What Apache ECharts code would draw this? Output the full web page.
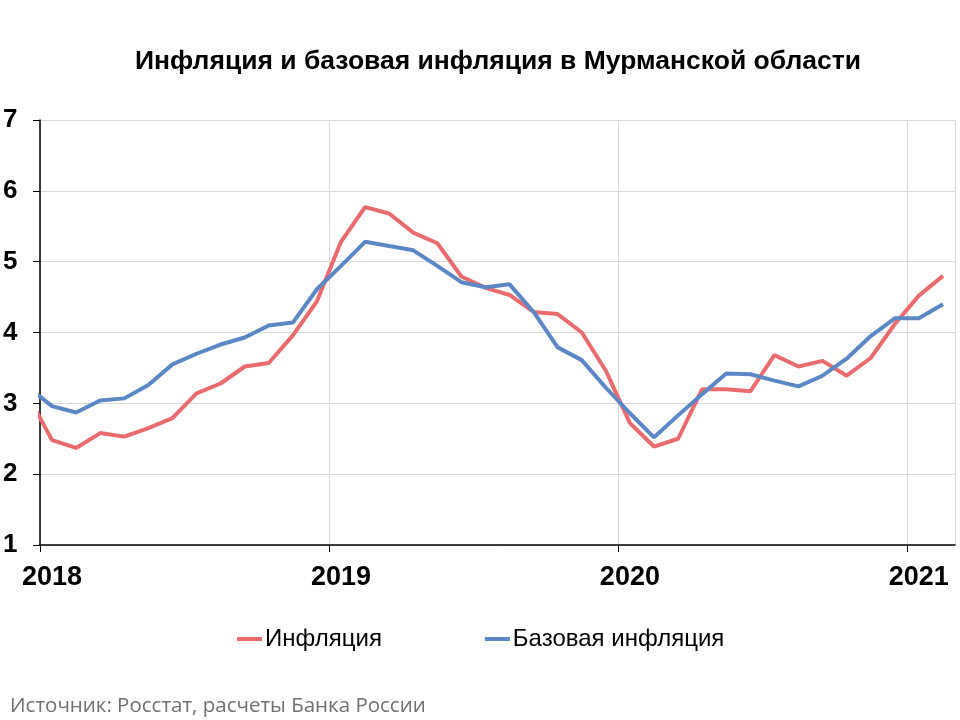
<!DOCTYPE html>
<html>
<head>
<meta charset="utf-8">
<script src="https://cdn.jsdelivr.net/npm/echarts@6/dist/echarts.min.js"></script>
<style>
  html, body { margin: 0; padding: 0; background: #fff; }
  #chart { width: 960px; height: 720px; }
</style>
</head>
<body>
<div id="chart"></div>
<script>
// месяцы (первый - декабрь 2017, обрезается краем оси)
var months = ['2017-12',
  '2018-01','2018-02','2018-03','2018-04','2018-05','2018-06','2018-07','2018-08','2018-09','2018-10','2018-11','2018-12',
  '2019-01','2019-02','2019-03','2019-04','2019-05','2019-06','2019-07','2019-08','2019-09','2019-10','2019-11','2019-12',
  '2020-01','2020-02','2020-03','2020-04','2020-05','2020-06','2020-07','2020-08','2020-09','2020-10','2020-11','2020-12',
  '2021-01','2021-02'];
// инфляция, % г/г
var inflation = [3.11,
  2.48, 2.37, 2.58, 2.53, 2.65, 2.79, 3.14, 3.28, 3.52, 3.57, 3.96, 4.44,
  5.28, 5.77, 5.68, 5.41, 5.26, 4.79, 4.63, 4.53, 4.29, 4.26, 4.00, 3.46,
  2.72, 2.39, 2.50, 3.20, 3.20, 3.17, 3.68, 3.52, 3.60, 3.39, 3.64, 4.12,
  4.52, 4.80];
// базовая инфляция, % г/г
var coreInflation = [3.23,
  2.96, 2.87, 3.04, 3.07, 3.26, 3.55, 3.70, 3.83, 3.93, 4.10, 4.14, 4.61,
  4.94, 5.28, 5.22, 5.16, 4.94, 4.71, 4.64, 4.68, 4.29, 3.79, 3.61, 3.22,
  2.86, 2.52, 2.83, 3.13, 3.42, 3.41, 3.32, 3.24, 3.39, 3.63, 3.95, 4.20,
  4.20, 4.40];
var startYear = 2018;
var yTicks = [1, 2, 3, 4, 5, 6, 7];

//позиция месяца на оси: середина месяца, считая от января 2018
function monthPos(m) {
  var p = m.split('-');
  return (Number(p[0]) - startYear) * 12 + Number(p[1]) - 1 + 0.5;
}
function toPairs(values) {
  var res = [];
  for (var i = 0; i < months.length; i++) {
    res.push([monthPos(months[i]), values[i]]);
  }
  return res;
}

var font = '"Liberation Sans", Arial, sans-serif';
var myChart = echarts.init(document.getElementById('chart'));
var option = {
  animation: false,
  backgroundColor: '#fff',
  title: [{
    text: 'Инфляция и базовая инфляция в Мурманской области',
    left: 130,
    top: 43,
    textStyle: { fontFamily: font, fontSize: 26.5, fontWeight: 'bold', color: '#000' }
  }, {
    text: 'Источник: Росстат, расчеты Банка России',
    left: 5,
    top: 691,
    textStyle: { fontFamily: '"Open Sans", sans-serif', fontSize: 20.5, fontWeight: 'normal', color: '#707070' }
  }],
  legend: {
    left: 232,
    top: 622,
    itemGap: 103,
    itemWidth: 25,
    itemHeight: 4,
    icon: 'rect',
    textStyle: { fontFamily: font, fontSize: 24, color: '#000', padding: [0, 0, 0, -2] },
    data: ['Инфляция', 'Базовая инфляция']
  },
  grid: { left: 40, right: 5, top: 120, bottom: 175 },
  xAxis: {
    type: 'value',
    min: 0,
    max: 38,
    interval: 12,
    axisLine: { lineStyle: { color: '#000', width: 1.5 } },
    axisTick: { length: 7, lineStyle: { color: '#000' } },
    splitLine: { show: true, lineStyle: { color: '#d9d9d9', width: 1 } },
    axisLabel: {
      margin: 19,
      padding: [0, 0, 0, 24],
      fontFamily: font, fontSize: 27, fontWeight: 'bold', color: '#000',
      showMaxLabel: false,
      formatter: function (v) {
        return v % 12 === 0 ? String(startYear + v / 12) : '';
      }
    }
  },
  yAxis: {
    type: 'value',
    min: yTicks[0],
    max: yTicks[yTicks.length - 1],
    interval: 1,
    axisLine: { show: true, lineStyle: { color: '#000', width: 1.5 } },
    axisTick: { show: true, length: 7, lineStyle: { color: '#000' } },
    splitLine: { lineStyle: { color: '#d9d9d9', width: 1 } },
    axisLabel: {
      margin: 37,
      align: 'left',
      fontFamily: font, fontSize: 26, fontWeight: 'bold', color: '#000'
    }
  },
  series: [{
    name: 'Инфляция',
    type: 'line',
    data: toPairs(inflation),
    showSymbol: false,
    clip: true,
    color: '#ea6b6e',
    lineStyle: { width: 4, color: '#ea6b6e' }
  }, {
    name: 'Базовая инфляция',
    type: 'line',
    data: toPairs(coreInflation),
    showSymbol: false,
    clip: true,
    color: '#5b88c4',
    lineStyle: { width: 4, color: '#5b88c4' }
  }]
};
myChart.setOption(option);
</script>
</body>
</html>
